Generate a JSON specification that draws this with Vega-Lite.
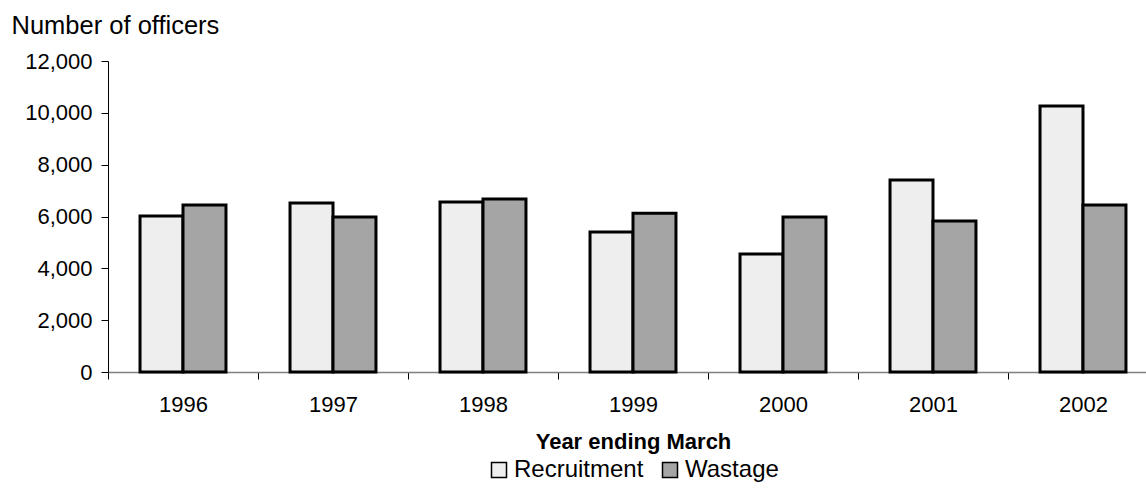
{
  "$schema": "https://vega.github.io/schema/vega-lite/v6.json",
  "width": 1050,
  "height": 311,
  "autosize": {"type": "none"},
  "padding": {"left": 108, "top": 61, "right": 0, "bottom": 117},
  "background": "white",
  "config": {
    "view": {"stroke": null},
    "font": "Liberation Sans",
    "axis": {"grid": false, "labelFont": "Liberation Sans", "titleFont": "Liberation Sans", "labelColor": "black", "titleColor": "black"}
  },
  "data": {
    "values": [
      {"year": "1996", "series": "Recruitment", "officers": 6020},
      {"year": "1996", "series": "Wastage", "officers": 6440},
      {"year": "1997", "series": "Recruitment", "officers": 6520},
      {"year": "1997", "series": "Wastage", "officers": 5980},
      {"year": "1998", "series": "Recruitment", "officers": 6560},
      {"year": "1998", "series": "Wastage", "officers": 6680},
      {"year": "1999", "series": "Recruitment", "officers": 5400},
      {"year": "1999", "series": "Wastage", "officers": 6130},
      {"year": "2000", "series": "Recruitment", "officers": 4550},
      {"year": "2000", "series": "Wastage", "officers": 5980},
      {"year": "2001", "series": "Recruitment", "officers": 7410},
      {"year": "2001", "series": "Wastage", "officers": 5830},
      {"year": "2002", "series": "Recruitment", "officers": 10260},
      {"year": "2002", "series": "Wastage", "officers": 6440}
    ]
  },
  "mark": {"type": "bar", "stroke": "black", "strokeWidth": 3},
  "encoding": {
    "x": {
      "field": "year", "type": "nominal",
      "scale": {"paddingInner": 0.427, "paddingOuter": 0.2135},
      "axis": {
        "title": "Year ending March", "titleFontSize": 22, "titleFontWeight": "bold", "titlePadding": 16,
        "labelAngle": 0, "labelFontSize": 22, "labelPadding": 15,
        "tickOffset": -75, "labelOffset": 75, "tickSize": 7, "tickColor": "black",
        "domainColor": "#808080", "domainWidth": 1.5
      }
    },
    "xOffset": {"field": "series", "type": "nominal", "scale": {"paddingInner": 0, "paddingOuter": 0}},
    "y": {
      "field": "officers", "type": "quantitative",
      "scale": {"domain": [0, 12000], "nice": false},
      "axis": {
        "title": "Number of officers", "titleAngle": 0, "titleAlign": "left", "titleBaseline": "alphabetic",
        "titleX": -97, "titleY": -28, "titleFontSize": 25.5, "titleFontWeight": "normal",
        "values": [0, 2000, 4000, 6000, 8000, 10000, 12000], "format": ",.0f",
        "labelFontSize": 22, "labelPadding": 9, "tickSize": 7, "tickColor": "black", "domainColor": "black"
      }
    },
    "color": {
      "field": "series", "type": "nominal",
      "scale": {"domain": ["Recruitment", "Wastage"], "range": ["#eeeeee", "#a5a5a5"]},
      "legend": {
        "title": null, "orient": "none", "direction": "horizontal",
        "legendX": 379, "legendY": 397,
        "symbolType": "square", "symbolSize": 225, "symbolStrokeColor": "black", "symbolStrokeWidth": 1.5,
        "labelFontSize": 24, "labelColor": "black", "labelFont": "Liberation Sans", "labelOffset": 3, "columnPadding": 14
      }
    }
  }
}
